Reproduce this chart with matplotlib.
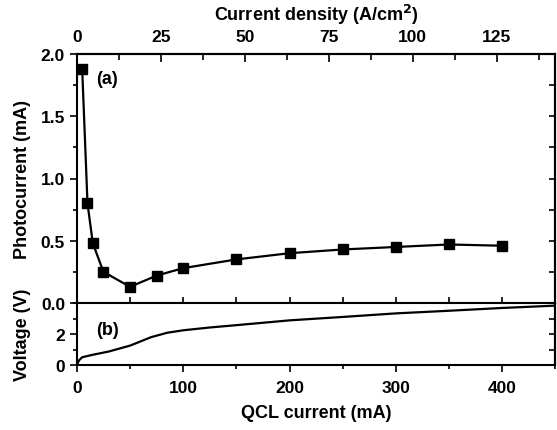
import matplotlib.pyplot as plt
import numpy as np
from matplotlib.ticker import MultipleLocator, FixedLocator

plt.rcParams['font.family'] = ['Liberation Sans', 'DejaVu Sans']
plt.rcParams['font.weight'] = 'bold'
plt.rcParams['axes.labelweight'] = 'bold'

# photocurrent vs QCL current
qcl_current = [5, 10, 15, 25, 50, 75, 100, 150, 200, 250, 300, 350, 400]
photocurrent = [1.88, 0.80, 0.48, 0.25, 0.13, 0.22, 0.28, 0.35, 0.40, 0.43, 0.45, 0.47, 0.46]

# voltage vs QCL current
v_current = [0, 2, 5, 15, 30, 50, 70, 85, 100, 125, 150, 200, 250, 300, 350, 400, 450]
voltage = [0, 0.3, 0.5, 0.66, 0.87, 1.25, 1.8, 2.08, 2.24, 2.42, 2.57, 2.88, 3.1, 3.33, 3.5, 3.68, 3.83]

density_ticks = [0, 25, 50, 75, 100, 125]
MA_PER_ACM2 = 3.16  # mA per A/cm^2

TICK_FS = 12.5
LABEL_FS = 13


def right_ticks(ax, major, minor):
    # mirror axis on the right with inward ticks, no labels
    r = ax.secondary_yaxis('right')
    r.yaxis.set_major_locator(MultipleLocator(major))
    r.yaxis.set_minor_locator(MultipleLocator(minor))
    r.tick_params(which='both', direction='in', labelright=False, length=4, width=1.2)
    r.spines['right'].set_linewidth(1.5)
    return r


def main():
    fig = plt.figure(figsize=(5.57, 4.31), dpi=100)
    left, right = 0.138, 0.997
    ax1 = fig.add_axes([left, 1 - 304 / 431, right - left, 249 / 431])
    ax2 = fig.add_axes([left, 1 - 366 / 431, right - left, 62 / 431], sharex=ax1)

    ax1.plot(qcl_current, photocurrent, color='k', lw=1.6, marker='s', ms=7)
    ax2.plot(v_current, voltage, color='k', lw=1.6)

    ax1.set_xlim(0, 450)
    ax1.set_ylim(0, 2.0)
    ax2.set_ylim(0, 4)

    for ax in (ax1, ax2):
        for sp in ax.spines.values():
            sp.set_linewidth(1.5)

    # upper panel ticks
    ax1.yaxis.set_major_locator(MultipleLocator(0.5))
    ax1.yaxis.set_minor_locator(MultipleLocator(0.25))
    ax1.yaxis.set_major_formatter(plt.FormatStrFormatter('%.1f'))
    ax1.xaxis.set_major_locator(MultipleLocator(100))
    ax1.xaxis.set_minor_locator(MultipleLocator(50))
    ax1.tick_params(axis='y', which='both', direction='out', right=False,
                    labelsize=TICK_FS, width=1.2)
    ax1.tick_params(axis='y', which='major', length=5)
    ax1.tick_params(axis='y', which='minor', length=3)
    ax1.tick_params(axis='x', which='both', direction='in', bottom=True, top=False,
                    labelbottom=False, length=4, width=1.2)
    right_ticks(ax1, 0.5, 0.25)

    # lower panel ticks
    ax2.set_yticks([0, 2])
    ax2.yaxis.set_minor_locator(MultipleLocator(1))
    ax2.tick_params(axis='y', which='both', direction='out', right=False,
                    labelsize=TICK_FS, width=1.2)
    ax2.tick_params(axis='y', which='major', length=5)
    ax2.tick_params(axis='y', which='minor', length=3)
    ax2.tick_params(axis='x', which='both', direction='out', labelsize=TICK_FS,
                    width=1.2, pad=6)
    ax2.tick_params(axis='x', which='major', length=5)
    ax2.tick_params(axis='x', which='minor', length=3)
    right_ticks(ax2, 1, 1)

    # top axis: current density
    top = ax1.secondary_xaxis('top', functions=(lambda i: i / MA_PER_ACM2,
                                                 lambda j: j * MA_PER_ACM2))
    top.xaxis.set_major_locator(FixedLocator(density_ticks))
    top.xaxis.set_minor_locator(FixedLocator([12.5, 37.5, 62.5, 87.5, 112.5, 137.5]))
    top.tick_params(which='both', direction='in', labelsize=TICK_FS, width=1.2, pad=7)
    top.tick_params(which='major', length=6)
    top.tick_params(which='minor', length=4)
    top.spines['top'].set_linewidth(1.5)
    top.set_xlabel('Current density (A/cm$^\\mathbf{2}$)', fontsize=LABEL_FS, labelpad=7)

    ax2.set_xlabel('QCL current (mA)', fontsize=LABEL_FS, labelpad=6)
    ax1.set_ylabel('Photocurrent (mA)', fontsize=LABEL_FS)
    ax2.set_ylabel('Voltage (V)', fontsize=LABEL_FS)
    ax1.yaxis.set_label_coords(-0.095, 0.5)
    ax2.yaxis.set_label_coords(-0.095, 0.5)

    ax1.text(0.063, 0.90, '(a)', transform=ax1.transAxes, fontsize=LABEL_FS,
             ha='center', va='center')
    ax2.text(0.063, 0.58, '(b)', transform=ax2.transAxes, fontsize=LABEL_FS,
             ha='center', va='center')

    fig.savefig('out.png', dpi=100)


if __name__ == "__main__":
    main()
